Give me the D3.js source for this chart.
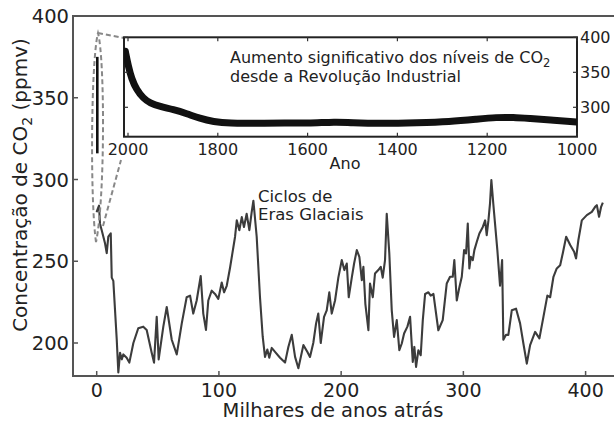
<!DOCTYPE html>
<html><head><meta charset="utf-8">
<script src="https://cdn.jsdelivr.net/npm/d3@7"></script>
<style>body{margin:0;background:#fff}svg{display:block}text{font-family:"DejaVu Sans",Verdana,sans-serif}</style>
</head><body>
<script>
// Main series: thousands of years ago (kyr) and CO2 (ppmv)
const kyrAgo = [0,0.3,1.9,2.7,4.1,6.8,8.2,9.5,11.5,12.3,13.6,16.4,17.7,19.1,20.5,21.8,24.5,26.7,30.0,34.0,38.1,40.9,45.0,46.9,49.1,50.7,54.5,57.3,61.4,65.5,69.6,73.6,76.4,79.0,81.8,85.1,87.2,89.4,91.3,94.1,96.8,99.5,102.3,104.2,106.4,109.1,113.2,114.6,116.7,118.7,120.5,122.7,124.9,126.8,128.2,130.9,133.6,135.8,137.7,139.6,141.2,143.2,145.9,150.0,154.1,156.8,159.6,162.3,165.0,169.1,172.3,174.5,177.2,179.5,181.3,183.3,186.0,188.2,190.3,192.3,195.0,197.7,200.5,202.6,204.6,206.2,208.7,210.6,212.8,214.9,216.9,218.2,219.8,222.3,223.6,225.9,227.7,230.4,232.4,234.0,235.9,237.3,239.4,241.4,243.3,245.5,247.6,249.6,251.5,254.2,256.4,258.6,259.9,261.3,263.2,265.1,266.8,268.7,271.4,273.3,275.5,279.5,283.1,286.4,289.1,291.3,292.6,294.6,296.7,298.7,300.6,302.2,303.6,304.9,306.1,307.7,309.0,311.0,313.1,315.9,317.8,319.1,320.5,321.8,322.9,324.5,325.9,327.8,330.0,331.7,332.7,334.9,336.8,339.6,343.1,346.4,349.1,351.9,354.6,358.7,362.2,365.5,368.7,371.0,373.7,376.4,379.2,381.3,384.1,387.4,390.6,392.2,394.1,396.9,401.0,405.1,407.8,409.2,411.0,412.7,414.1];
const co2Ppmv = [280,281,284,273,269,261,255,265,267,240,238,202,182,194,190,193,191,188,200,209,210,208,194,188,216,190,210,222,202,193,212,228,229,218,226,241,218,208,226,232,230,227,237,231,235,246,265,275,269,277,271,279,269,280,287,265,228,204,191.5,196,191,197,194.6,191,188,197.6,205,191.5,184.6,198.7,194.6,191.5,200,212,218,200,216,220,231,218,226,240,250.7,244.6,248.6,228,240,248.6,256.8,252.7,238.4,246.6,224,207.8,236.4,228,242.5,244.6,246.6,240,250.7,279,254.8,220,203.7,214,195.6,199.7,205.8,210,216,188.4,197.6,185.4,195.6,192.5,214,230,231,229,230,207.8,214,236.4,240.5,240.5,250.7,226,234,240.5,256.8,254.8,273,245.6,252.7,250.7,256.8,261.9,267,271,275,266,275,285.4,299.6,285,273,256.8,235,250.7,202,205,205,220,221,212,199.7,187.4,198.7,206.8,202.8,216,229,228,240.5,245.6,247.6,254.8,265,259.9,255.8,251.7,263,275,278.2,280.2,283.3,284.3,277.2,283.3,285.8];
// Recent (industrial) spike at 0 kyr
const recentKyr = [0,0];
const recentPpmv = [375,316];
// Inset series: year AD and CO2 (ppmv)
const insetYear = [2006,1999,1992,1981,1966,1951,1929,1899,1869,1840,1810,1773,1721,1647,1602,1535,1506,1431,1357,1283,1223,1179,1142,1105,1060,1008,1000];
const insetPpmv = [380,358,341,325,313,306,301,297,291,284,279.4,277,277,278,277,279.4,278,277,278,279.4,283,285.7,285.7,284,282,279.4,279];
// Ticks
const mainXTicks = [0,100,200,300,400];
const mainYTicks = [200,250,300,350,400];
const insetXTicks = [2000,1800,1600,1400,1200,1000];
const insetYTicks = [300,350,400];

(function(){
const W = 614, H = 423;
const svg = d3.select("body").append("svg").attr("width", W).attr("height", H);

const x = d3.scaleLinear().domain([0,400]).range([96.7,585.6]);
const y = d3.scaleLinear().domain([200,400]).range([343,16]);
const pL = 73, pT = 16, pB = 376, pR = 620;
const axisCol = "#555", lineCol = "#3c3c3c";

// frame
svg.append("path").attr("d", `M${pR},${pT}H${pL}V${pB}H${pR}`)
  .attr("fill","none").attr("stroke",axisCol).attr("stroke-width",2);

// ticks (inward)
svg.append("g").selectAll("line").data(mainXTicks).join("line")
  .attr("x1",d=>x(d)).attr("x2",d=>x(d)).attr("y1",pB).attr("y2",pB-5)
  .attr("stroke",axisCol).attr("stroke-width",1.5);
svg.append("g").selectAll("line").data(mainYTicks).join("line")
  .attr("x1",pL).attr("x2",pL+5).attr("y1",d=>y(d)).attr("y2",d=>y(d))
  .attr("stroke",axisCol).attr("stroke-width",1.5);
svg.append("g").selectAll("text").data(mainXTicks).join("text")
  .attr("x",d=>x(d)).attr("y",397).attr("text-anchor","middle")
  .attr("font-size",19).attr("fill","#222").text(d=>d);
svg.append("g").selectAll("text").data(mainYTicks).join("text")
  .attr("x",69).attr("y",d=>y(d)+7).attr("text-anchor","end")
  .attr("font-size",19.5).attr("fill","#222").text(d=>d);

// axis titles
svg.append("text").attr("x",333).attr("y",417).attr("text-anchor","middle")
  .attr("font-size",19.5).attr("fill","#222").text("Milhares de anos atrás");
const yl = svg.append("text").attr("transform","translate(27,185) rotate(-90)")
  .attr("text-anchor","middle").attr("font-size",20).attr("fill","#222");
yl.append("tspan").text("Concentração de CO");
yl.append("tspan").attr("font-size",14).attr("dy",5).text("2");
yl.append("tspan").attr("dy",-5).text(" (ppmv)");

// main line
const pts = kyrAgo.map((k,i)=>[k,co2Ppmv[i]]);
svg.append("path").datum(pts)
  .attr("d", d3.line().x(d=>x(d[0])).y(d=>y(d[1])))
  .attr("fill","none").attr("stroke",lineCol).attr("stroke-width",2.1).attr("stroke-linejoin","round");
const rpts = recentKyr.map((k,i)=>[k,recentPpmv[i]]);
svg.append("path").datum(rpts)
  .attr("d", d3.line().x(d=>x(d[0])+0.6).y(d=>y(d[1])))
  .attr("fill","none").attr("stroke","#111").attr("stroke-width",2.6);

// dashed zoom outline
const dash = {stroke:"#888", "stroke-width":2, "stroke-dasharray":"5,3", fill:"none"};
const lens = svg.append("path").attr("d","M96,242 C90,200 91,60 98,33 C105,60 105,200 96,242");
const l1 = svg.append("path").attr("d","M98,33 L124,38");
const l2 = svg.append("path").attr("d","M103,226 L121,160");
[lens,l1,l2].forEach(p=>Object.entries(dash).forEach(([k,v])=>p.attr(k,v)));

// inset
const ix = d3.scaleLinear().domain([2000,1000]).range([128,577]);
const iy = d3.scaleLinear().domain([300,400]).range([107.3,37.3]);
const iL = 124, iR = 577, iT = 37.3, iB = 136.7;
svg.append("rect").attr("x",iL).attr("y",iT).attr("width",iR-iL).attr("height",iB-iT)
  .attr("fill","#fff").attr("stroke","#222").attr("stroke-width",2);
svg.append("clipPath").attr("id","ic").append("rect")
  .attr("x",iL).attr("y",iT).attr("width",iR-iL).attr("height",iB-iT);
const ipts = insetYear.map((yr,i)=>[yr,insetPpmv[i]]);
svg.append("path").datum(ipts).attr("clip-path","url(#ic)")
  .attr("d", d3.line().curve(d3.curveBasis).x(d=>ix(d[0])).y(d=>iy(d[1])))
  .attr("fill","none").attr("stroke","#111").attr("stroke-width",7).attr("stroke-linecap","round");
// inset ticks
const itk = svg.append("g").attr("stroke","#333").attr("stroke-width",1.2);
insetXTicks.forEach(t=>{
  itk.append("line").attr("x1",ix(t)).attr("x2",ix(t)).attr("y1",iB).attr("y2",iB-4);
  itk.append("line").attr("x1",ix(t)).attr("x2",ix(t)).attr("y1",iT).attr("y2",iT+4);
});
insetYTicks.forEach(t=>{
  itk.append("line").attr("x1",iL).attr("x2",iL+4).attr("y1",iy(t)).attr("y2",iy(t));
  itk.append("line").attr("x1",iR).attr("x2",iR-4).attr("y1",iy(t)).attr("y2",iy(t));
});
svg.append("g").selectAll("text").data(insetXTicks).join("text")
  .attr("x",d=>ix(d)).attr("y",155).attr("text-anchor","middle")
  .attr("font-size",16).attr("fill","#222").text(d=>d);
svg.append("g").selectAll("text").data(insetYTicks).join("text")
  .attr("x",580).attr("y",d=>iy(d)+6).attr("text-anchor","start")
  .attr("font-size",16).attr("fill","#222").text(d=>d);
svg.append("text").attr("x",345).attr("y",169).attr("text-anchor","middle")
  .attr("font-size",16).attr("fill","#222").text("Ano");
const t1 = svg.append("text").attr("x",230).attr("y",63).attr("font-size",16).attr("fill","#222");
t1.append("tspan").text("Aumento significativo dos níveis de CO");
t1.append("tspan").attr("font-size",11.5).attr("dy",4).text("2");
svg.append("text").attr("x",230).attr("y",82).attr("font-size",16).attr("fill","#222")
  .text("desde a Revolução Industrial");

// annotation
svg.append("text").attr("x",258).attr("y",201.5).attr("font-size",16.5).attr("fill","#222").text("Ciclos de");
svg.append("text").attr("x",258).attr("y",220).attr("font-size",16.5).attr("fill","#222").text("Eras Glaciais");
})();
</script>
</body></html>
